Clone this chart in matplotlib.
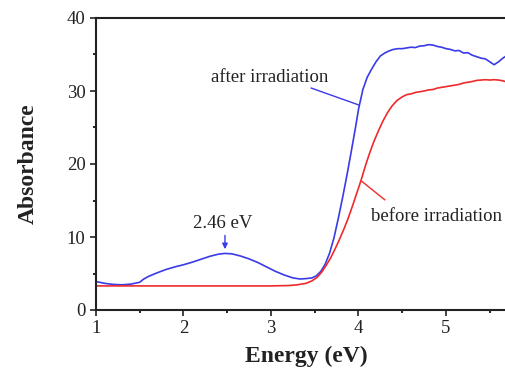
import matplotlib
matplotlib.use("Agg")
import matplotlib.pyplot as plt
from matplotlib.ticker import MultipleLocator

plt.rcParams['font.family'] = ['Liberation Serif', 'DejaVu Serif']

after_E = [1.0, 1.1, 1.2, 1.3, 1.4, 1.5, 1.54, 1.6, 1.7, 1.8, 1.9, 2.0, 2.1, 2.2, 2.3, 2.4,
           2.47, 2.55, 2.65, 2.75, 2.85, 2.95, 3.05, 3.15, 3.25, 3.33, 3.4, 3.47, 3.52, 3.57,
           3.62, 3.67, 3.72, 3.77, 3.82, 3.87, 3.92, 3.97, 4.0, 4.05, 4.1, 4.15, 4.2, 4.25,
           4.3, 4.35, 4.4, 4.45, 4.5, 4.55, 4.6, 4.65, 4.7, 4.75, 4.8, 4.85, 4.9, 4.95, 5.0,
           5.05, 5.1, 5.15, 5.2, 5.25, 5.3, 5.35, 5.4, 5.45, 5.5, 5.55, 5.6, 5.65, 5.7, 5.75, 5.8]
after_A = [3.9, 3.65, 3.5, 3.45, 3.55, 3.8, 4.2, 4.6, 5.1, 5.55, 5.9, 6.2, 6.55, 6.95, 7.35, 7.65,
           7.75, 7.7, 7.4, 7.0, 6.5, 5.9, 5.3, 4.8, 4.4, 4.25, 4.3, 4.4, 4.7, 5.3,
           6.3, 7.8, 9.9, 12.6, 15.5, 18.6, 21.9, 25.3, 27.5, 30.2, 31.9, 33.0, 34.0, 34.8,
           35.2, 35.5, 35.7, 35.8, 35.8, 35.9, 36.0, 35.95, 36.15, 36.2, 36.35, 36.3, 36.1, 36.0, 35.8,
           35.7, 35.5, 35.55, 35.2, 35.25, 34.9, 34.7, 34.5, 34.4, 34.0, 33.6, 34.0, 34.5, 34.9, 35.1, 35.2]

before_E = [1.0, 1.5, 2.0, 2.5, 3.0, 3.2, 3.3, 3.4, 3.47, 3.53, 3.58, 3.63, 3.68, 3.73, 3.78,
            3.83, 3.88, 3.93, 3.98, 4.03, 4.08, 4.13, 4.18, 4.23, 4.28, 4.33, 4.38, 4.44, 4.5,
            4.55, 4.6, 4.65, 4.7, 4.75, 4.8, 4.85, 4.9, 4.95, 5.0, 5.05, 5.1, 5.15, 5.2, 5.25,
            5.3, 5.35, 5.4, 5.45, 5.5, 5.55, 5.6, 5.65, 5.7, 5.75, 5.8]
before_A = [3.3, 3.3, 3.3, 3.3, 3.3, 3.35, 3.45, 3.65, 4.0, 4.5, 5.2, 6.1, 7.1, 8.3, 9.6,
            11.0, 12.5, 14.2, 16.0, 17.8, 19.8, 21.6, 23.2, 24.6, 25.9, 27.0, 27.9, 28.7, 29.2,
            29.5, 29.6, 29.8, 29.9, 30.0, 30.15, 30.2, 30.4, 30.5, 30.6, 30.7, 30.8, 30.9, 31.1, 31.2,
            31.3, 31.45, 31.5, 31.55, 31.5, 31.55, 31.5, 31.4, 31.2, 31.0, 30.9]

x_ticks = [1, 2, 3, 4, 5]
y_ticks = [0, 10, 20, 30, 40]

fig = plt.figure(figsize=(5.06, 3.68), dpi=100)
ax = fig.add_axes([96/506, 58/368, 420/506, 292/368])
ax.plot(after_E, after_A, color='#3a3ae8', lw=1.2)
ax.plot(before_E, before_A, color='#ee2a2a', lw=1.2)

ax.set_xlim(1, 5.8)
ax.set_ylim(0, 40)
ax.set_xticks(x_ticks)
ax.set_yticks(y_ticks)
ax.xaxis.set_minor_locator(MultipleLocator(0.5))
ax.yaxis.set_minor_locator(MultipleLocator(5))
ax.tick_params(which='major', direction='out', length=4, width=1.2, labelsize=13.5, colors='#222222')
ax.tick_params(which='minor', direction='out', length=2.5, width=1.2)
ax.tick_params(top=False, right=False, which='both')
for s in ax.spines.values():
    s.set_linewidth(1.5)
    s.set_color('#222222')

ax.set_xlabel('Energy (eV)', fontsize=17, fontweight='bold', color='#222222', labelpad=6)
ax.set_ylabel('Absorbance', fontsize=17, fontweight='bold', color='#222222', labelpad=20)

ax.text(2.99, 31.8, 'after irradiation', fontsize=13.5, ha='center', va='center', color='#222222')
ax.plot([3.46, 4.0], [30.4, 28.1], color='#3a3ae8', lw=1.0)
ax.text(4.89, 12.8, 'before irradiation', fontsize=13.5, ha='center', va='center', color='#222222')
ax.plot([4.04, 4.30], [17.6, 15.1], color='#ee2a2a', lw=1.0)
ax.text(2.45, 11.9, '2.46 eV', fontsize=13.5, ha='center', va='center', color='#222222')
ax.annotate('', xy=(2.474, 7.95), xytext=(2.474, 10.6),
            arrowprops=dict(arrowstyle='-|>', color='#3a3ae8', lw=1.0, mutation_scale=8))

fig.savefig('out.png', dpi=100)
